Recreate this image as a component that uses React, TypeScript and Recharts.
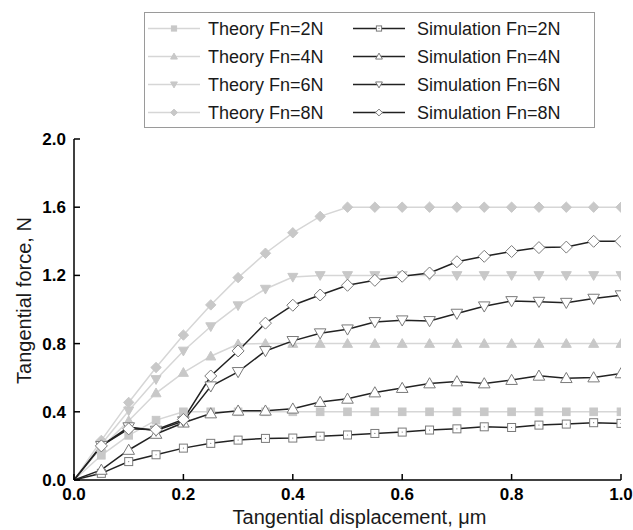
import { LineChart, Line, XAxis, YAxis, Legend } from 'recharts'

const displacement = [
  0, 0.05, 0.1, 0.15, 0.2, 0.25, 0.3, 0.35, 0.4, 0.45, 0.5,
  0.55, 0.6, 0.65, 0.7, 0.75, 0.8, 0.85, 0.9, 0.95, 1.0,
]

const theory2N = [0, 0.145, 0.262, 0.351, 0.4, 0.4, 0.4, 0.4, 0.4, 0.4, 0.4, 0.4, 0.4, 0.4, 0.4, 0.4, 0.4, 0.4, 0.4, 0.4, 0.4]
const theory4N = [0, 0.19, 0.347, 0.51, 0.63, 0.726, 0.797, 0.8, 0.8, 0.8, 0.8, 0.8, 0.8, 0.8, 0.8, 0.8, 0.8, 0.8, 0.8, 0.8, 0.8]
const theory6N = [0, 0.21, 0.406, 0.59, 0.757, 0.9, 1.023, 1.12, 1.19, 1.2, 1.2, 1.2, 1.2, 1.2, 1.2, 1.2, 1.2, 1.2, 1.2, 1.2, 1.2]
const theory8N = [0, 0.232, 0.455, 0.66, 0.85, 1.027, 1.187, 1.33, 1.45, 1.546, 1.6, 1.6, 1.6, 1.6, 1.6, 1.6, 1.6, 1.6, 1.6, 1.6, 1.6]

const sim2N = [0, 0.039, 0.108, 0.148, 0.187, 0.215, 0.234, 0.244, 0.246, 0.257, 0.264, 0.273, 0.281, 0.293, 0.3, 0.312, 0.308, 0.322, 0.328, 0.336, 0.332]
const sim4N = [0, 0.059, 0.176, 0.27, 0.336, 0.39, 0.406, 0.406, 0.418, 0.457, 0.476, 0.513, 0.539, 0.566, 0.578, 0.566, 0.586, 0.611, 0.597, 0.601, 0.625]
const sim6N = [0, 0.2, 0.31, 0.29, 0.345, 0.55, 0.634, 0.757, 0.816, 0.861, 0.884, 0.927, 0.937, 0.933, 0.976, 1.019, 1.05, 1.046, 1.04, 1.064, 1.084]
const sim8N = [0, 0.2, 0.3, 0.295, 0.355, 0.61, 0.757, 0.92, 1.025, 1.085, 1.142, 1.171, 1.195, 1.214, 1.28, 1.312, 1.34, 1.363, 1.366, 1.4, 1.4]

const xTicks = [0, 0.2, 0.4, 0.6, 0.8, 1.0]
const yTicks = [0, 0.4, 0.8, 1.2, 1.6, 2.0]

const FONT = '"Liberation Sans", Arial, sans-serif'
const THEORY_LINE = '#d6d6d6'
const THEORY_MARK = '#c8c8c8'
const SIM_LINE = '#222222'
const SIM_MARK = '#7a7a7a'

type Shape = 'square' | 'up' | 'down' | 'diamond'

interface SeriesDef {
  key: string
  name: string
  values: number[]
  shape: Shape
  theory: boolean
  size: number
}

const series: SeriesDef[] = [
  { key: 't2', name: 'Theory Fn=2N', values: theory2N, shape: 'square', theory: true, size: 3.8 },
  { key: 't4', name: 'Theory Fn=4N', values: theory4N, shape: 'up', theory: true, size: 5 },
  { key: 't6', name: 'Theory Fn=6N', values: theory6N, shape: 'down', theory: true, size: 5 },
  { key: 't8', name: 'Theory Fn=8N', values: theory8N, shape: 'diamond', theory: true, size: 5.2 },
  { key: 's2', name: 'Simulation Fn=2N', values: sim2N, shape: 'square', theory: false, size: 4 },
  { key: 's4', name: 'Simulation Fn=4N', values: sim4N, shape: 'up', theory: false, size: 5.8 },
  { key: 's6', name: 'Simulation Fn=6N', values: sim6N, shape: 'down', theory: false, size: 5.8 },
  { key: 's8', name: 'Simulation Fn=8N', values: sim8N, shape: 'diamond', theory: false, size: 6 },
]

const data = displacement.map((x, i) => {
  const row: Record<string, number> = { x }
  series.forEach((s) => (row[s.key] = s.values[i]))
  return row
})

function Marker({ shape, cx, cy, r, theory }: { shape: Shape; cx: number; cy: number; r: number; theory: boolean }) {
  const fill = theory ? THEORY_MARK : '#ffffff'
  const stroke = theory ? THEORY_MARK : SIM_MARK
  if (shape === 'square') {
    return (
      <g>
        <rect x={cx - r} y={cy - r} width={2 * r} height={2 * r} fill={fill} stroke={stroke} strokeWidth={1} />
        {!theory && <circle cx={cx} cy={cy} r={0.6} fill={stroke} />}
      </g>
    )
  }
  let pts = ''
  if (shape === 'up') pts = `${cx},${cy - r} ${cx + r},${cy + r * 0.75} ${cx - r},${cy + r * 0.75}`
  if (shape === 'down') pts = `${cx},${cy + r} ${cx + r},${cy - r * 0.75} ${cx - r},${cy - r * 0.75}`
  if (shape === 'diamond') pts = `${cx},${cy - r} ${cx + r},${cy} ${cx},${cy + r} ${cx - r},${cy}`
  return <polygon points={pts} fill={fill} stroke={stroke} strokeWidth={1} />
}

function makeDot(s: SeriesDef) {
  return (props: any) => {
    const { cx, cy, index } = props
    if (index === 0 || cx == null || cy == null) return <g key={`${s.key}-${index}`} />
    return (
      <g key={`${s.key}-${index}`}>
        <Marker shape={s.shape} cx={cx} cy={cy} r={s.size} theory={s.theory} />
      </g>
    )
  }
}

function LegendBox() {
  const rowY = (i: number) => 15.5 + i * 28
  const col = (s: SeriesDef, i: number) => {
    const x0 = s.theory ? 3 : 208
    const w = 52
    const y = rowY(i)
    return (
      <g key={s.key}>
        <line x1={x0} x2={x0 + w} y1={y} y2={y} stroke={s.theory ? THEORY_LINE : SIM_LINE} strokeWidth={1.5} />
        <Marker shape={s.shape} cx={x0 + w / 2} cy={y} r={s.shape === 'square' ? 2.6 : 3.4} theory={s.theory} />
        <text x={x0 + (s.theory ? 60 : 64)} y={y} dy={6.3} fontSize={18} fontFamily={FONT} fill="#1a1a1a">
          {s.name}
        </text>
      </g>
    )
  }
  return (
    <div style={{ width: 451, height: 116, border: '1px solid #9a9a9a', boxSizing: 'border-box', background: '#fff' }}>
      <svg width={449} height={114} style={{ display: 'block' }}>
        {series.filter((s) => s.theory).map((s, i) => col(s, i))}
        {series.filter((s) => !s.theory).map((s, i) => col(s, i))}
      </svg>
    </div>
  )
}

function YTitle({ viewBox }: any) {
  const x = viewBox.x + 24
  const y = viewBox.y + viewBox.height / 2 - 9
  return (
    <text x={x} y={y} transform={`rotate(-90, ${x}, ${y})`} textAnchor="middle" dominantBaseline="central" fontSize={20} fontFamily={FONT} fill="#1a1a1a">
      Tangential force, N
    </text>
  )
}

function XTitle({ viewBox }: any) {
  const x = viewBox.x + viewBox.width / 2 + 12
  return (
    <text x={x} y={524} textAnchor="middle" fontSize={20} fontFamily={FONT} fill="#1a1a1a">
      Tangential displacement, μm
    </text>
  )
}

const tickStyle = { fontSize: 17, fontWeight: 'bold' as const, fontFamily: FONT, fill: '#000' }

export default function App() {
  return (
    <div style={{ position: 'absolute', left: 0, top: 0, background: '#fff' }}>
      <LineChart width={633} height={530} data={data} margin={{ top: 139, right: 12, left: 0, bottom: 0 }}>
        <XAxis
          dataKey="x"
          type="number"
          domain={[0, 1]}
          ticks={xTicks}
          allowDataOverflow
          height={50}
          tickSize={-6}
          tickMargin={14}
          tickFormatter={(v: number) => v.toFixed(1)}
          tick={tickStyle}
          axisLine={{ stroke: '#000', strokeWidth: 1.5 }}
          tickLine={{ stroke: '#000', strokeWidth: 1.5 }}
          label={<XTitle />}
        />
        <YAxis
          type="number"
          domain={[0, 2]}
          ticks={yTicks}
          allowDataOverflow
          width={74}
          tickSize={-6}
          tickMargin={14}
          tickFormatter={(v: number) => v.toFixed(1)}
          tick={tickStyle}
          axisLine={{ stroke: '#000', strokeWidth: 1.5 }}
          tickLine={{ stroke: '#000', strokeWidth: 1.5 }}
          label={<YTitle />}
        />
        <Legend
          layout="vertical"
          align="center"
          verticalAlign="middle"
          content={() => <LegendBox />}
          wrapperStyle={{ position: 'absolute', left: 144, top: 12, width: 451, height: 116 }}
        />
        {series.map((s) => (
          <Line
            key={s.key}
            dataKey={s.key}
            name={s.name}
            type="linear"
            stroke={s.theory ? THEORY_LINE : SIM_LINE}
            strokeWidth={1.5}
            dot={makeDot(s)}
            activeDot={false}
            isAnimationActive={false}
          />
        ))}
      </LineChart>
    </div>
  )
}
